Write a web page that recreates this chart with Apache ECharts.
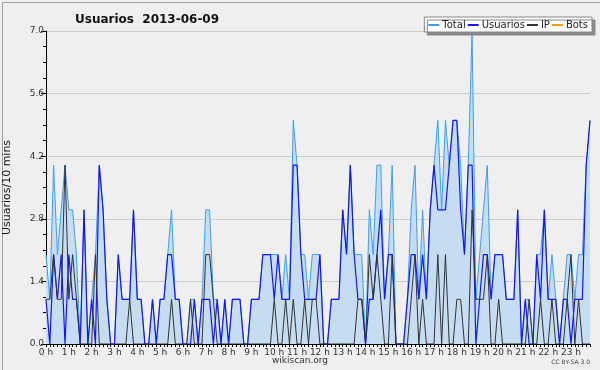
<!DOCTYPE html>
<html><head><meta charset="utf-8">
<script src="https://cdn.jsdelivr.net/npm/echarts@6/dist/echarts.min.js"></script>
<style>html,body{margin:0;padding:0;background:#efefef}#c{width:600px;height:370px}</style>
</head><body><div id="c"></div>
<script>
// 10-minute slots, 144 per day
const times = [];
for (let h = 0; h < 24; h++) for (let m = 0; m < 60; m += 10) times.push(h + ':' + (m < 10 ? '0' : '') + m);
const hourLabels = ['0 h','1 h','2 h','3 h','4 h','5 h','6 h','7 h','8 h','9 h','10 h','11 h','12 h','13 h','14 h','15 h','16 h','17 h','18 h','19 h','20 h','21 h','22 h','23 h'];
const yTicks = [0, 1.4, 2.8, 4.2, 5.6, 7.0];

const total = [2,1,4,2,3,4,3,3,2,0,3,0,1,2,4,3,1,0,0,2,1,1,1,3,1,1,0,0,1,0,1,1,2,3,1,1,
0,0,1,1,0,1,3,3,1,1,0,1,0,1,1,1,0,0,1,1,1,2,2,2,2,2,1,2,1,5,4,2,2,1,2,2,
2,0,0,1,1,1,3,2,4,2,2,2,0,3,2,4,4,1,2,4,0,0,0,1,3,4,1,3,1,3,4,5,3,5,4,5,
5,4,2,4,7,1,2,3,4,1,2,2,2,1,1,1,3,0,1,1,0,2,2,3,1,2,1,0,1,2,2,1,2,2,4,5];
const usuarios = [1,0,2,1,2,0,2,1,1,0,3,0,1,0,4,3,1,0,0,2,1,1,1,3,1,1,0,0,1,0,1,1,2,2,1,1,
0,0,0,1,0,1,1,1,0,1,0,1,0,1,1,1,0,0,1,1,1,2,2,2,1,2,1,1,1,4,4,2,1,1,1,1,
2,0,0,1,1,1,3,2,4,2,1,1,0,1,1,2,3,1,2,2,0,0,0,1,2,2,1,2,1,3,4,3,3,3,4,5,
5,3,2,4,4,0,1,2,2,1,2,2,2,1,1,1,3,0,1,0,0,2,1,3,1,1,1,0,1,1,0,1,1,1,4,5];
const ip = [1,1,2,1,1,4,1,2,1,0,0,0,0,2,0,0,0,0,0,0,0,0,1,0,0,0,0,0,0,0,0,0,0,1,0,0,
0,0,1,0,0,0,2,2,1,0,0,0,0,0,0,0,0,0,0,0,0,0,0,0,1,0,0,1,0,1,0,0,1,0,1,1,
0,0,0,0,0,0,0,0,0,0,1,1,0,2,1,2,1,0,0,2,0,0,0,0,1,2,0,1,0,0,0,2,0,2,0,0,
1,1,0,0,3,1,1,1,2,0,0,1,0,0,0,0,0,0,0,1,0,0,1,0,0,1,0,0,0,1,2,0,1,0,0,0];
const bots = new Array(144).fill(0);

const FONT = 'DejaVu Sans';
const chart = echarts.init(document.getElementById('c'), null, {renderer: 'canvas'});
chart.setOption({
  backgroundColor: '#efefef',
  animation: false,
  textStyle: {fontFamily: FONT},
  title: {
    text: 'Usuarios  2013-06-09', left: 70, top: 9,
    textStyle: {fontFamily: FONT, fontSize: 12, fontWeight: 'bold', color: '#111'}
  },
  legend: {
    right: 8, top: 17, padding: [3, 4, 2, 4], itemGap: 2,
    itemWidth: 11, itemHeight: 2, icon: 'rect',
    backgroundColor: '#ffffff', borderColor: '#888', borderWidth: 1,
    shadowColor: '#888', shadowBlur: 0, shadowOffsetX: 3, shadowOffsetY: 3,
    textStyle: {fontFamily: FONT, fontSize: 10, color: '#222', padding: [0, 0, 0, -2]},
    data: ['Total', 'Usuarios', 'IP', 'Bots']
  },
  grid: {left: 46, right: 10, top: 31, bottom: 26, containLabel: false, outerBoundsMode: 'none'},
  xAxis: {
    type: 'category', data: times, boundaryGap: false,
    axisLine: {lineStyle: {color: '#000', width: 1}},
    axisTick: {interval: 0, length: 3, lineStyle: {color: '#000'}},
    axisLabel: {
      interval: 5, margin: 4, fontSize: 9, color: '#333', fontFamily: FONT,
      formatter: (v, i) => hourLabels[Math.floor(i / 6)]
    },
    splitLine: {show: false}
  },
  yAxis: {
    type: 'value', min: yTicks[0], max: yTicks[yTicks.length - 1], interval: 1.4,
    name: 'Usuarios/10 mins', nameLocation: 'middle', nameGap: 33, nameRotate: 90,
    nameTextStyle: {fontFamily: FONT, fontSize: 11, color: '#111'},
    axisLine: {show: true, lineStyle: {color: '#000', width: 1}},
    axisTick: {show: true, length: 5, lineStyle: {color: '#000'}},
    minorTick: {show: true, splitNumber: 4, length: 3, lineStyle: {color: '#000'}},
    axisLabel: {fontSize: 9, color: '#333', margin: 2, fontFamily: FONT, formatter: v => v.toFixed(1)},
    splitLine: {show: true, lineStyle: {color: '#cccccc', width: 1}}
  },
  series: [
    {name: 'Total', type: 'line', data: total, symbol: 'none',
      lineStyle: {color: '#3d9ef5', width: 1}, itemStyle: {color: '#3d9ef5'},
      areaStyle: {color: '#c6ddf1', opacity: 1}},
    {name: 'Usuarios', type: 'line', data: usuarios, symbol: 'none',
      lineStyle: {color: '#1515f5', width: 1.2}, itemStyle: {color: '#1515f5'}},
    {name: 'IP', type: 'line', data: ip, symbol: 'none',
      lineStyle: {color: '#333333', width: 1}, itemStyle: {color: '#333333'}},
    {name: 'Bots', type: 'line', data: bots, symbol: 'none',
      lineStyle: {color: '#ff9900', width: 1, opacity: 0}, itemStyle: {color: '#ff9900'}}
  ],
  graphic: [
    {type: 'rect', left: 0, top: 0, silent: true,
      shape: {x: 0.5, y: 0.5, width: 599, height: 369},
      style: {fill: 'none', stroke: '#a0a0a0', lineWidth: 1}},
    {type: 'text', left: 'center', top: 356,
      style: {text: 'wikiscan.org', fontSize: 9, fontFamily: FONT, fill: '#333'}},
    {type: 'text', right: 10, top: 359,
      style: {text: 'CC BY-SA 3.0', fontSize: 6, fontFamily: FONT, fill: '#444'}}
  ]
});
</script></body></html>
